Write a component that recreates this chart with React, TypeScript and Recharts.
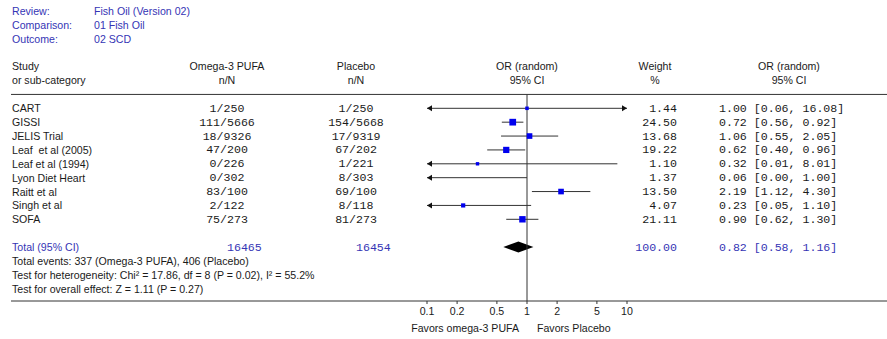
import React from 'react';
import { ComposedChart, XAxis, YAxis, Scatter, ReferenceLine, ReferenceArea } from 'recharts';

// ---------- data ----------
const reviewLabels = ['Review:', 'Comparison:', 'Outcome:'];
const reviewValues = ['Fish Oil (Version 02)', '01 Fish Oil', '02 SCD'];

const studies = [
  'CART',
  'GISSI',
  'JELIS Trial',
  'Leaf  et al (2005)',
  'Leaf et al (1994)',
  'Lyon Diet Heart',
  'Raitt et al',
  'Singh et al',
  'SOFA',
];
const omegaEvents = ['1/250', '111/5666', '18/9326', '47/200', '0/226', '0/302', '83/100', '2/122', '75/273'];
const placeboEvents = ['1/250', '154/5668', '17/9319', '67/202', '1/221', '8/303', '69/100', '8/118', '81/273'];
const oddsRatios = [1.0, 0.72, 1.06, 0.62, 0.32, 0.06, 2.19, 0.23, 0.9];
const ciLower = [0.06, 0.56, 0.55, 0.4, 0.01, 0.0, 1.12, 0.05, 0.62];
const ciUpper = [16.08, 0.92, 2.05, 0.96, 8.01, 1.0, 4.3, 1.1, 1.3];
const weights = [1.44, 24.5, 13.68, 19.22, 1.1, 1.37, 13.5, 4.07, 21.11];

const totalLabel = 'Total (95% CI)';
const totalOmega = '16465';
const totalPlacebo = '16454';
const totalWeight = 100.0;
const totalOR = 0.82;
const totalLower = 0.58;
const totalUpper = 1.16;

const footnotes = [
  'Total events: 337 (Omega-3 PUFA), 406 (Placebo)',
  'Test for heterogeneity: Chi\u00B2 = 17.86, df = 8 (P = 0.02), I\u00B2 = 55.2%',
  'Test for overall effect: Z = 1.11 (P = 0.27)',
];

const headerTop = ['Study', 'Omega-3 PUFA', 'Placebo', 'OR (random)', 'Weight', 'OR (random)'];
const headerBottom = ['or sub-category', 'n/N', 'n/N', '95% CI', '%', '95% CI'];

const xTicks = [0.1, 0.2, 0.5, 1, 2, 5, 10];
const favorsLeft = 'Favors omega-3 PUFA';
const favorsRight = 'Favors Placebo';

// ---------- layout ----------
const W = 887;
const H = 339;
const PLOT_LEFT = 427;
const PLOT_RIGHT = 627;
const AXIS_Y = 301;
const ROW0_Y = 108.3;
const ROW_H = 13.875;
const ROW_TOP = -ROW0_Y / ROW_H;
const ROW_BOTTOM = (AXIS_Y - ROW0_Y) / ROW_H;
const X_MIN = 0.1;
const X_MAX = 10;

const SANS = '"Liberation Sans", Arial, sans-serif';
const MONO = '"Liberation Mono", "Courier New", monospace';
const SANS_SIZE = 10.6;
const MONO_SIZE = 11.6;
const BLUE_TEXT = '#3535b5';
const SQUARE_BLUE = '#0000ee';
const INK = '#1a1a1a';
const LINE = '#333333';

const COL_STUDY = 12;
const COL_OMEGA = 227;
const COL_PLACEBO = 356;
const COL_OR = 527;
const COL_WEIGHT_HEAD = 655;
const COL_WEIGHT = 677;
const COL_CI = 719;
const COL_CI_HEAD = 789;
const COL_REVIEW_VAL = 94;

const fmt = (v: number) => v.toFixed(2);
const clampX = (v: number) => Math.min(X_MAX, Math.max(X_MIN, v));

type TextItem = {
  x: number;
  y: number;
  text?: string;
  colX?: number;
  anchor?: 'start' | 'middle' | 'end';
  color?: string;
  mono?: boolean;
  rule?: boolean;
};

const textItems: TextItem[] = [];
reviewLabels.forEach((t, i) => {
  textItems.push({ x: 1, y: -7 + i, text: t, colX: COL_STUDY, anchor: 'start', color: BLUE_TEXT });
  textItems.push({ x: 1, y: -7 + i, text: reviewValues[i], colX: COL_REVIEW_VAL, anchor: 'start', color: BLUE_TEXT });
});
const headCols = [COL_STUDY, COL_OMEGA, COL_PLACEBO, COL_OR, COL_WEIGHT_HEAD, COL_CI_HEAD];
headerTop.forEach((t, i) => {
  textItems.push({ x: 1, y: -3.05, text: t, colX: headCols[i], anchor: i === 0 ? 'start' : 'middle', color: INK });
  textItems.push({ x: 1, y: -2.02, text: headerBottom[i], colX: headCols[i], anchor: i === 0 ? 'start' : 'middle', color: INK });
});
textItems.push({ x: 1, y: -1, rule: true });
studies.forEach((s, i) => {
  textItems.push({ x: 1, y: i, text: s, colX: COL_STUDY, anchor: 'start', color: INK });
  textItems.push({ x: 1, y: i, text: omegaEvents[i], colX: COL_OMEGA, anchor: 'middle', color: INK, mono: true });
  textItems.push({ x: 1, y: i, text: placeboEvents[i], colX: COL_PLACEBO, anchor: 'middle', color: INK, mono: true });
  textItems.push({ x: 1, y: i, text: fmt(weights[i]), colX: COL_WEIGHT, anchor: 'end', color: INK, mono: true });
  textItems.push({
    x: 1,
    y: i,
    text: `${fmt(oddsRatios[i])} [${fmt(ciLower[i])}, ${fmt(ciUpper[i])}]`,
    colX: COL_CI,
    anchor: 'start',
    color: INK,
    mono: true,
  });
});
textItems.push({ x: 1, y: 10, text: totalLabel, colX: COL_STUDY, anchor: 'start', color: BLUE_TEXT });
textItems.push({ x: 1, y: 10, text: totalOmega, colX: COL_OMEGA, anchor: 'start', color: BLUE_TEXT, mono: true });
textItems.push({ x: 1, y: 10, text: totalPlacebo, colX: COL_PLACEBO, anchor: 'start', color: BLUE_TEXT, mono: true });
textItems.push({ x: 1, y: 10, text: fmt(totalWeight), colX: COL_WEIGHT, anchor: 'end', color: BLUE_TEXT, mono: true });
textItems.push({
  x: 1,
  y: 10,
  text: `${fmt(totalOR)} [${fmt(totalLower)}, ${fmt(totalUpper)}]`,
  colX: COL_CI,
  anchor: 'start',
  color: BLUE_TEXT,
  mono: true,
});
footnotes.forEach((t, i) => {
  textItems.push({ x: 1, y: 11 + i, text: t, colX: COL_STUDY, anchor: 'start', color: INK });
});
textItems.push({ x: 1, y: ROW_BOTTOM, rule: true });

const squareData = studies
  .map((s, i) => ({ x: oddsRatios[i], y: i, w: weights[i] }))
  .filter((d) => d.x >= X_MIN && d.x <= X_MAX);

const TextShape = (props: any) => {
  const { cy, payload } = props;
  const d: TextItem = payload;
  if (d.rule) {
    return <line x1={11} x2={W} y1={cy} y2={cy} stroke={LINE} strokeWidth={1} />;
  }
  return (
    <text
      x={d.colX}
      y={cy}
      textAnchor={d.anchor}
      dominantBaseline="central"
      fill={d.color}
      fontFamily={d.mono ? MONO : SANS}
      fontSize={d.mono ? MONO_SIZE : SANS_SIZE}
      style={{ whiteSpace: 'pre' }}
    >
      {d.text}
    </text>
  );
};

const SquareShape = (props: any) => {
  const { cx, cy, payload } = props;
  const s = 2.5 + 0.85 * Math.sqrt(payload.w);
  return <rect x={cx - s / 2} y={cy - s / 2} width={s} height={s} fill={SQUARE_BLUE} />;
};

const makeCIShape = (arrowL: boolean, arrowR: boolean) => (p: any) => {
  const { x1, y1, x2, y2 } = p;
  return (
    <g>
      <line x1={x1} y1={y1} x2={x2} y2={y2} stroke={LINE} strokeWidth={1} />
      {arrowL && (
        <polygon points={`${x1},${y1} ${x1 + 5},${y1 - 3} ${x1 + 5},${y1 + 3}`} fill="#111" />
      )}
      {arrowR && (
        <polygon points={`${x2},${y2} ${x2 - 5},${y2 - 3} ${x2 - 5},${y2 + 3}`} fill="#111" />
      )}
    </g>
  );
};

const DiamondShape = (p: any) => {
  const { x, y, width, height } = p;
  const ratio =
    (Math.log(totalOR) - Math.log(totalLower)) / (Math.log(totalUpper) - Math.log(totalLower));
  const xc = x + width * ratio;
  const ym = y + height / 2;
  return (
    <polygon
      points={`${x},${ym} ${xc},${y} ${x + width},${ym} ${xc},${y + height}`}
      fill="#000"
    />
  );
};

const FavorsLabel = (p: any) => {
  const vb = p.viewBox || {};
  const mid = vb.x + vb.width / 2;
  const y = vb.y + 27;
  return (
    <g>
      <text x={mid - 8} y={y} textAnchor="end" dominantBaseline="central" fontFamily={SANS} fontSize={SANS_SIZE} fill={INK}>
        {favorsLeft}
      </text>
      <text x={mid + 10} y={y} textAnchor="start" dominantBaseline="central" fontFamily={SANS} fontSize={SANS_SIZE} fill={INK}>
        {favorsRight}
      </text>
    </g>
  );
};

export default function App() {
  return (
    <div style={{ position: 'absolute', left: 0, top: 0, width: W, height: H, background: '#fff' }}>
      <ComposedChart
        width={W}
        height={H}
        margin={{ top: 0, right: W - PLOT_RIGHT, bottom: 0, left: PLOT_LEFT }}
      >
        <XAxis
          dataKey="x"
          type="number"
          scale="log"
          domain={[X_MIN, X_MAX]}
          ticks={xTicks}
          interval={0}
          tickFormatter={(v: number) => String(v)}
          axisLine={false}
          tickLine={{ stroke: LINE }}
          tickSize={3}
          tickMargin={3}
          height={H - AXIS_Y}
          tick={{ fontSize: SANS_SIZE, fill: INK, fontFamily: SANS }}
          label={{ content: FavorsLabel }}
        />
        <YAxis dataKey="y" type="number" domain={[ROW_TOP, ROW_BOTTOM]} reversed hide width={0} />

        <ReferenceLine
          segment={[
            { x: 1, y: -1 },
            { x: 1, y: ROW_BOTTOM },
          ]}
          stroke={LINE}
          strokeWidth={1}
        />

        {studies.map((s, i) => (
          <ReferenceLine
            key={s}
            segment={[
              { x: clampX(ciLower[i]), y: i },
              { x: clampX(ciUpper[i]), y: i },
            ]}
            shape={makeCIShape(ciLower[i] < X_MIN, ciUpper[i] > X_MAX)}
          />
        ))}

        <ReferenceArea
          x1={totalLower}
          x2={totalUpper}
          y1={9.6}
          y2={10.4}
          shape={DiamondShape}
        />

        <Scatter data={squareData} shape={SquareShape} isAnimationActive={false} />
        <Scatter data={textItems} shape={TextShape} isAnimationActive={false} />
      </ComposedChart>
    </div>
  );
}
